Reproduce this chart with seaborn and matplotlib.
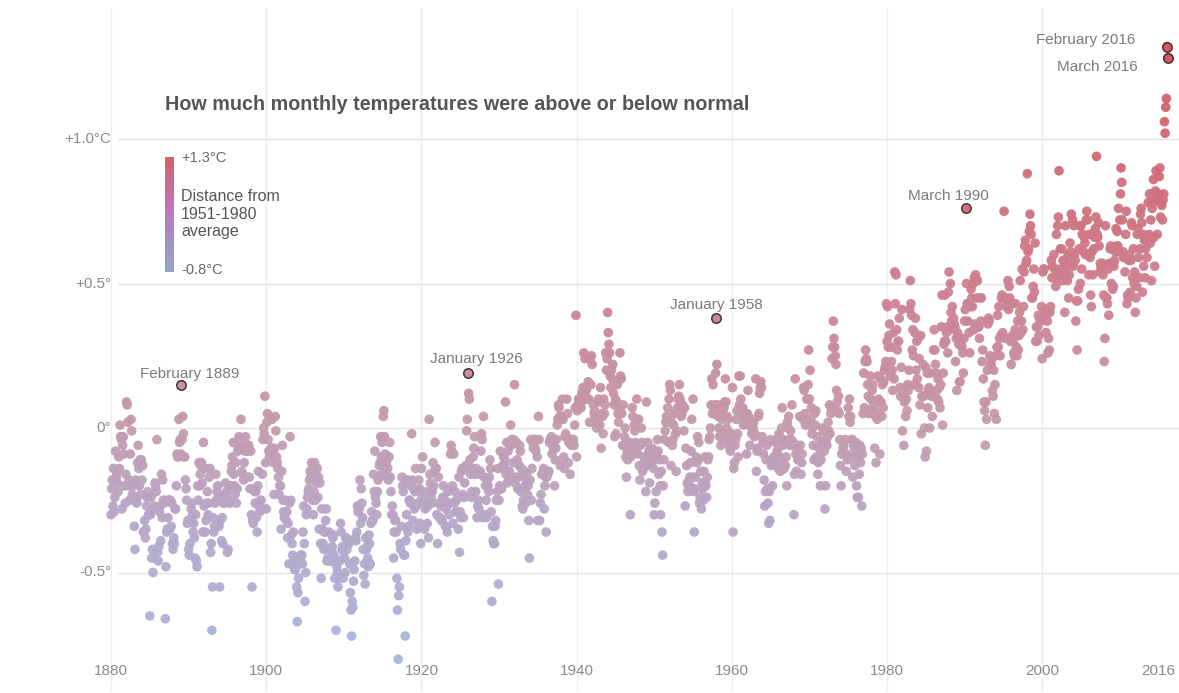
import numpy as np
import pandas as pd
import matplotlib
matplotlib.use("Agg")
import matplotlib.pyplot as plt
from matplotlib.colors import LinearSegmentedColormap
import seaborn as sns

# monthly anomalies in hundredths of a degree C, Jan 1880 - Mar 2016
d1880 = [
    -30, -21, -18, -27, -14, -29, -24, -8, -17, -16, -19, -22,
    -10, -14, 1, -3, -4, -28, -6, -3, -9, -20, -26, -16,
    9, 8, 2, -20, -18, -25, -9, 3, -1, -23, -20, -24,
    -34, -42, -18, -25, -26, -12, -6, -14, -20, -11, -23, -11,
    -18, -13, -36, -36, -32, -38, -35, -27, -24, -22, -30, -30,
    -65, -30, -24, -45, -42, -50, -28, -27, -19, -20, -22, -4,
    -43, -46, -41, -29, -27, -39, -16, -31, -18, -25, -26, -25,
    -66, -48, -36, -35, -31, -25, -25, -35, -25, -34, -26, -40,
    -42, -38, -40, -28, -28, -20, -9, -10, -10, 3, -5, -4,
    -9, 15, -4, 4, -2, -10, -10, -18, -21, -25, -33, -32,
]
d1890 = [
    -42, -44, -40, -32, -28, -26, -30, -36, -33, -38, -45, -30,
    -46, -48, -20, -25, -12, -20, -16, -13, -12, -19, -36, -5,
    -27, -14, -36, -32, -26, -22, -30, -26, -17, -14, -43, -40,
    -70, -55, -31, -36, -34, -26, -16, -25, -22, -20, -24, -34,
    -55, -32, -25, -39, -31, -40, -26, -26, -23, -19, -25, -22,
    -43, -42, -25, -20, -26, -20, -15, -13, -10, -5, -16, -20,
    -23, -12, -26, -21, -8, -7, -3, -6, -6, 3, -15, -6,
    -16, -18, -12, -8, -3, -8, -8, -6, -7, -6, -17, -21,
    -8, -30, -55, -32, -33, -21, -22, -26, -22, -31, -36, -20,
    -15, -27, -29, -25, -25, -28, -16, -4, 0, -2, 11, -12,
]
d1900 = [
    -28, 2, 5, -4, -8, -10, -8, -11, -7, 3, -7, -12,
    -23, -7, 4, -1, -10, -12, -14, -17, -23, -20, -20, -35,
    -15, -6, -25, -29, -31, -30, -25, -32, -29, -38, -33, -47,
    -26, -3, -25, -37, -40, -44, -36, -46, -49, -49, -45, -55,
    -67, -57, -52, -46, -47, -45, -44, -44, -47, -36, -27, -40,
    -60, -50, -30, -28, -24, -22, -21, -18, -15, -17, -12, -14,
    -25, -30, -22, -12, -25, -16, -19, -14, -24, -17, -35, -19,
    -40, -52, -28, -35, -40, -42, -36, -36, -32, -28, -46, -45,
    -42, -36, -46, -46, -42, -42, -41, -38, -37, -44, -52, -46,
    -70, -48, -50, -55, -52, -51, -46, -33, -36, -42, -41, -52,
]
d1910 = [
    -43, -45, -50, -38, -38, -42, -39, -39, -40, -47, -57, -63,
    -72, -60, -62, -53, -49, -46, -38, -39, -36, -27, -29, -27,
    -28, -18, -33, -21, -26, -31, -42, -51, -47, -54, -38, -42,
    -41, -45, -48, -37, -40, -47, -33, -29, -32, -32, -16, -22,
    -8, -24, -26, -30, -22, -18, -17, -13, -12, -3, -10, -5,
    -15, 4, 6, -3, -9, -13, -12, -17, -14, -18, -10, -5,
    -17, -22, -30, -27, -30, -45, -36, -32, -32, -36, -52, -63,
    -80, -58, -55, -40, -42, -34, -17, -20, -22, -44, -44, -72,
    -39, -30, -18, -36, -34, -25, -25, -26, -20, -2, -18, -32,
    -21, -28, -22, -14, -27, -35, -26, -26, -18, -21, -33, -40,
]
d1920 = [
    -14, -24, -10, -26, -26, -35, -28, -27, -22, -33, -27, -38,
    3, -16, -19, -24, -26, -22, -12, -20, -15, -5, -14, -14,
    -30, -40, -17, -26, -31, -31, -27, -32, -32, -24, -20, -26,
    -25, -34, -28, -34, -36, -22, -26, -30, -26, -9, -6, -8,
    -20, -33, -9, -26, -22, -29, -25, -29, -29, -35, -17, -43,
    -29, -31, -15, -14, -23, -31, -24, -19, -14, -13, -1, 3,
    19, 12, 10, -11, -16, -24, -22, -14, -10, -7, -3, -16,
    -22, -14, -31, -27, -25, -28, -16, -15, -8, -2, -4, -31,
    4, -17, -30, -20, -25, -31, -18, -20, -22, -17, -11, -14,
    -29, -60, -34, -39, -40, -40, -34, -32, -25, -22, -14, -54,
]
d1930 = [
    -25, -20, -8, -21, -21, -14, -13, -10, -13, -11, 9, -16,
    -5, -19, -8, -18, -15, -5, 1, -6, -4, -5, -12, -4,
    15, -19, -17, -5, -11, -21, -17, -13, -6, -8, -22, -14,
    -27, -28, -25, -15, -20, -26, -18, -16, -23, -20, -32, -45,
    -18, -4, -25, -14, -5, -7, -4, -4, -7, -8, -4, -10,
    -32, 4, -4, -32, -26, -23, -16, -16, -16, -14, -28, -20,
    -17, -36, -17, -16, -15, -15, -5, -4, -4, -3, -9, -4,
    -7, -6, -20, -11, -7, -4, 1, 3, 8, 7, 4, -13,
    4, 3, 10, 3, -10, -14, -3, -2, -3, 10, 5, -12,
    -5, -5, -16, -4, -6, -4, -5, -4, -6, 1, 7, 39,
]
d1940 = [
    -10, 6, 8, 10, 8, 10, 8, 7, 12, 10, 14, 26,
    12, 24, 10, 13, 14, 10, 16, 10, 2, 24, 15, 25,
    22, 2, 8, 5, 6, 4, 2, 0, 2, 4, 10, 9,
    1, 14, -7, 5, 4, -2, 10, 5, 8, 26, 20, 24,
    40, 33, 29, 26, 18, 14, 20, 17, 22, 12, 8, -3,
    10, -2, 9, 15, 5, 2, 6, 26, 18, 17, 5, -6,
    8, -6, -3, 0, -10, -17, -8, -11, -5, -6, -5, -30,
    -10, -9, 7, 4, -6, 1, -1, -5, -8, 10, 3, -9,
    3, -13, -18, -6, 0, -5, -15, -14, -12, -10, -13, -22,
    9, -13, -5, -10, -8, -19, -12, -8, -12, -7, -11, -14,
]
d1950 = [
    -30, -26, -8, -22, -9, -4, -8, -16, -11, -20, -30, -15,
    -36, -44, -20, -11, -4, -1, 2, 4, 2, 7, -5, 10,
    15, 13, -13, 2, -6, -4, 1, 5, 5, -2, -15, -1,
    7, 10, 11, 15, 10, 8, 4, 5, 8, 7, -1, 7,
    -27, -7, -13, -19, -22, -20, -19, -17, -12, -8, 3, -17,
    10, -22, -36, -21, -17, -10, -12, -3, -11, -5, -26, -24,
    -15, -28, -19, -21, -25, -15, -10, -19, -20, -24, -17, -11,
    -10, -4, -3, 0, 8, 17, 5, 15, 5, 6, 8, 19,
    38, 22, 8, 4, 0, -3, 5, -6, -2, 3, 5, -4,
    7, 9, 17, 9, 0, 4, 3, -2, -5, -7, -8, -4,
]
d1960 = [
    -2, 14, -36, -14, -12, -6, -4, 3, 6, -2, -10, 18,
    8, 18, 10, 7, 5, 7, 1, 2, 4, 2, 4, -9,
    5, 13, 4, 1, -6, 2, 1, -2, -1, 0, 2, -3,
    -2, 17, -15, -8, -7, 4, 5, 12, 14, 16, 14, -3,
    -5, -9, -18, -27, -22, -11, -6, -21, -26, -33, -22, -32,
    -4, -13, -11, -20, -12, -10, -12, -5, -10, -4, -8, -9,
    -14, -2, -3, -15, -11, 0, 7, -6, -4, -14, -5, -13,
    -10, -20, 2, 0, 4, -4, -6, -1, -4, 8, -6, -5,
    -30, -16, 17, -9, -15, -6, -11, -8, -11, 4, -6, -16,
    -12, -9, 3, 14, 13, 5, 1, 2, 10, 10, 15, 27,
]
d1970 = [
    10, 20, 3, 7, -2, 0, -6, -11, 5, 1, 6, -10,
    -3, -16, -12, -7, -10, -20, -11, -5, 0, -5, -1, -8,
    -28, -20, -4, -6, -3, 2, -1, 8, -2, 5, 7, 24,
    28, 37, 31, 28, 25, 22, 13, 9, 6, 11, 5, -4,
    -13, -20, -9, -9, -7, -6, -9, -4, -9, -15, -10, -11,
    7, 4, 10, 2, 4, -4, -4, -17, -6, -8, -13, -10,
    -5, -20, -24, -10, -24, -16, -6, -12, -7, -27, -9, 5,
    19, 7, 23, 27, 24, 23, 15, 11, 5, 6, 18, 10,
    6, 13, 15, 8, 6, -7, 4, -12, 5, 3, 18, 10,
    9, -9, 17, 9, 4, 15, 7, 16, 20, 21, 23, 43,
]
d1980 = [
    30, 42, 28, 32, 36, 18, 28, 23, 20, 13, 33, 17,
    54, 43, 53, 34, 27, 30, 30, 38, 14, 11, 21, 41,
    -1, 11, -6, 9, 14, 4, 10, 6, 15, 13, 20, 41,
    51, 43, 39, 27, 34, 25, 15, 33, 38, 20, 30, 17,
    31, 14, 24, 8, 32, -2, 11, 11, 22, 11, 0, -10,
    21, -8, 19, 7, 13, 14, 0, 19, 12, 11, 4, 11,
    27, 34, 27, 22, 19, 13, 10, 17, 9, 14, 7, 15,
    35, 46, 1, 19, 29, 30, 46, 30, 33, 35, 26, 47,
    54, 34, 50, 40, 37, 42, 35, 38, 36, 35, 23, 31,
    13, 33, 32, 29, 16, 16, 29, 30, 28, 26, 19, 31,
]
d1990 = [
    37, 41, 76, 50, 43, 37, 43, 33, 26, 42, 48, 45,
    42, 50, 34, 52, 36, 53, 51, 45, 51, 35, 35, 31,
    45, 37, 45, 23, 27, 17, 9, 6, -6, 9, 3, 20,
    36, 38, 37, 25, 22, 22, 24, 13, 11, 20, 5, 15,
    25, 3, 28, 39, 28, 42, 31, 25, 32, 45, 46, 33,
    45, 75, 45, 45, 31, 42, 44, 51, 41, 49, 45, 30,
    22, 43, 32, 30, 26, 25, 34, 43, 28, 25, 37, 27,
    32, 40, 51, 33, 37, 55, 34, 42, 54, 63, 65, 57,
    58, 88, 61, 62, 68, 74, 70, 67, 45, 45, 49, 55,
    47, 64, 30, 35, 30, 35, 39, 32, 38, 37, 37, 42,
]
d2000 = [
    24, 54, 55, 55, 39, 41, 33, 40, 37, 26, 31, 27,
    40, 42, 58, 52, 56, 52, 60, 55, 52, 49, 67, 52,
    70, 73, 89, 55, 62, 53, 62, 51, 58, 55, 58, 40,
    70, 53, 56, 51, 60, 45, 53, 64, 61, 74, 57, 72,
    56, 70, 60, 58, 37, 44, 27, 44, 48, 62, 70, 50,
    70, 55, 67, 67, 61, 66, 64, 60, 72, 75, 72, 60,
    53, 67, 59, 46, 42, 61, 53, 67, 62, 66, 69, 73,
    94, 67, 66, 71, 63, 54, 57, 56, 56, 57, 53, 46,
    23, 31, 70, 45, 45, 43, 55, 39, 57, 62, 63, 50,
    57, 48, 49, 56, 58, 61, 69, 63, 68, 63, 76, 61,
]
d2010 = [
    72, 81, 90, 85, 72, 61, 59, 59, 54, 67, 75, 43,
    46, 45, 58, 60, 47, 58, 71, 70, 52, 62, 50, 54,
    40, 45, 49, 67, 69, 59, 52, 62, 74, 76, 71, 47,
    67, 56, 65, 52, 62, 66, 59, 66, 78, 67, 81, 64,
    72, 51, 76, 78, 86, 66, 56, 82, 89, 79, 67, 79,
    81, 87, 90, 73, 78, 77, 72, 79, 81, 106, 102, 111,
    114, 132, 128,
]

# labelled months: (label, year, month index 0-11, text offset in pixels, alignment)
callouts = [
    ("February 1889", 1889, 1, 8, 11, "center"),
    ("January 1926", 1926, 0, 8, 14, "center"),
    ("January 1958", 1958, 0, 0, 13, "center"),
    ("March 1990", 1990, 2, -18, 12, "center"),
    ("February 2016", 2016, 1, -32, 7, "right"),
    ("March 2016", 2016, 2, -30, -9, "right"),
]

y_ticks = [1.0, 0.5, 0.0, -0.5]
y_tick_labels = ["+1.0°C", "+0.5°", "0°", "-0.5°"]
x_ticks = [1880, 1900, 1920, 1940, 1960, 1980, 2000, 2016]

vals = np.array(d1880 + d1890 + d1900 + d1910 + d1920 + d1930 + d1940
                + d1950 + d1960 + d1970 + d1980 + d1990 + d2000 + d2010) / 100.0
df = pd.DataFrame({"t": 1880 + np.arange(len(vals)) / 12.0, "anom": vals})

sns.set_style("white")
plt.rcParams["font.family"] = ["Liberation Sans", "DejaVu Sans"]

W, H = 1179, 693
fig = plt.figure(figsize=(W / 100, H / 100), dpi=100)
ax = fig.add_axes([0, 0, 1, 1])

# pixel <-> data mapping (1 year = 7.76 px, 1 degree = 289 px)
xpp, ypp = 7.76, 289.0
x0 = 1880 - 111 / xpp
y0 = 428 / ypp
ax.set_xlim(x0, x0 + W / xpp)
ax.set_ylim(y0 - H / ypp, y0)
ax.axis("off")

def px_x(p):
    return x0 + p / xpp

def px_y(p):
    return y0 - p / ypp

# gridlines
for xv in [1880, 1900, 1920, 1940, 1960, 1980, 2000]:
    ax.plot([xv, xv], [px_y(690), px_y(8)], color="#eeeeee", lw=1, zorder=0)
for yv, lab in zip(y_ticks, y_tick_labels):
    ax.plot([px_x(118), px_x(W)], [yv, yv], color="#e4e4e4", lw=1, zorder=0)
    ax.text(px_x(111), yv, lab, ha="right", va="center", fontsize=11, color="#8a8a8a")
for xv in x_ticks:
    xt = xv if xv != 2016 else xv - 1.0
    ax.text(xt, px_y(671), str(xv), ha="center", va="center", fontsize=11, color="#8a8a8a")

pts_cmap = LinearSegmentedColormap.from_list(
    "pts", [(0.0, "#a7b5de"), (0.24, "#b9a6c6"), (0.38, "#c49bae"),
            (0.62, "#ce7f8f"), (1.0, "#d3585f")])
sns.scatterplot(data=df, x="t", y="anom", hue="anom", palette=pts_cmap,
                hue_norm=(-0.8, 1.3), legend=False, s=48, linewidth=0,
                alpha=0.95, ax=ax, zorder=3)

for lab, yr, mo, dx, dy, ha in callouts:
    idx = (yr - 1880) * 12 + mo
    xv, yv = df.t[idx], df.anom[idx]
    ax.scatter([xv], [yv], s=46, color=pts_cmap((yv + 0.8) / 2.1),
               edgecolor="#4a3338", linewidth=1.1, zorder=5)
    ax.annotate(lab, (xv, yv), xytext=(dx, dy), textcoords="offset pixels",
                ha=ha, va="center", fontsize=11, color="#7a7a7a", zorder=6)

# title
fig.text(165 / W, 1 - 105 / H, "How much monthly temperatures were above or below normal",
         ha="left", va="center", fontsize=14.2, fontweight="bold", color="#555555")

# colour legend
bar_cmap = LinearSegmentedColormap.from_list(
    "bar", ["#94a4c4", "#a492c4", "#b87bc0", "#c86c96", "#d2646a"])
cax = fig.add_axes([165 / W, 1 - 272 / H, 9 / W, 115 / H])
cax.imshow(np.linspace(1, 0, 100).reshape(-1, 1), cmap=bar_cmap, aspect="auto")
cax.axis("off")
fig.text(181 / W, 1 - 158 / H, "+1.3°C", ha="left", va="center", fontsize=10.5, color="#666666")
fig.text(181 / W, 1 - 270 / H, "-0.8°C", ha="left", va="center", fontsize=10.5, color="#666666")
fig.text(181 / W, 1 - 214 / H, "Distance from\n1951-1980\naverage", ha="left", va="center",
         fontsize=11.5, color="#555555", linespacing=1.2)

fig.savefig("out.png", dpi=100)
